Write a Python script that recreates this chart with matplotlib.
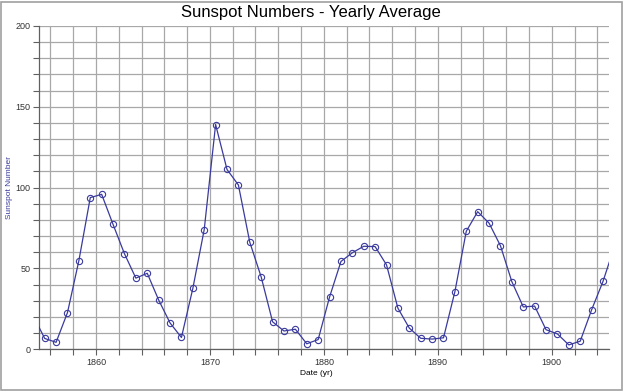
import matplotlib
matplotlib.use("Agg")
import matplotlib.pyplot as plt
from matplotlib.patches import Rectangle
from matplotlib.ticker import MultipleLocator

# yearly mean sunspot numbers, plotted at mid-year
years = list(range(1854, 1906))
sunspots = [
    20.6, 6.7, 4.3, 22.7, 54.8, 93.8, 95.8, 77.2, 59.1, 44.0,
    47.0, 30.5, 16.3, 7.3, 37.6, 74.0, 139.0, 111.2, 101.6, 66.2,
    44.7, 17.0, 11.3, 12.4, 3.4, 6.0, 32.3, 54.3, 59.7, 63.7,
    63.5, 52.2, 25.4, 13.1, 6.8, 6.3, 7.1, 35.6, 73.0, 85.1,
    78.0, 64.0, 41.8, 26.2, 26.7, 12.1, 9.5, 2.7, 5.0, 24.4,
    42.0, 63.5,
]
x_ticks = [1860, 1870, 1880, 1890, 1900]
y_ticks = [0, 50, 100, 150, 200]

plt.rcParams["font.family"] = ["Liberation Sans", "DejaVu Sans"]

fig = plt.figure(figsize=(6.24, 3.92), dpi=100)
ax = fig.add_axes([0.0625, 0.109, 0.913, 0.825])

xs = [y + 0.5 for y in years]
ax.plot(xs, sunspots, color="#3a3a9e", lw=0.9, marker="o", ms=4.5,
        mfc="none", mec="#3a3a9e", mew=0.8, clip_on=True, zorder=3)

ax.set_xlim(1855, 1905)
ax.set_ylim(0, 200)
ax.set_xticks(x_ticks)
ax.set_yticks(y_ticks)
ax.xaxis.set_minor_locator(MultipleLocator(2))
ax.yaxis.set_minor_locator(MultipleLocator(10))
ax.grid(which="both", color="#a8a8a8", lw=0.9)
ax.set_axisbelow(True)
ax.tick_params(which="both", direction="out", length=4, width=0.8,
               color="#606060", labelsize=6.5, labelcolor="#333333", pad=2)

for side in ("top", "right"):
    ax.spines[side].set_visible(False)
for side in ("left", "bottom"):
    ax.spines[side].set_color("#606060")
    ax.spines[side].set_linewidth(0.9)

fig.text(0.498, 0.967, "Sunspot Numbers - Yearly Average", fontsize=12,
         ha="center", va="center")
ax.set_xlabel("Date (yr)", fontsize=6)
ax.xaxis.set_label_coords(0.4875, -0.065)
ax.set_ylabel("Sunspot Number", fontsize=6, color="#3a3a9e")
ax.yaxis.set_label_coords(-0.045, 0.5)

fig.patches.append(Rectangle((0.002, 0.004), 0.995, 0.992, transform=fig.transFigure,
                             fill=False, edgecolor="#a0a0a0", lw=1.2))

fig.savefig("out.png", dpi=100)
